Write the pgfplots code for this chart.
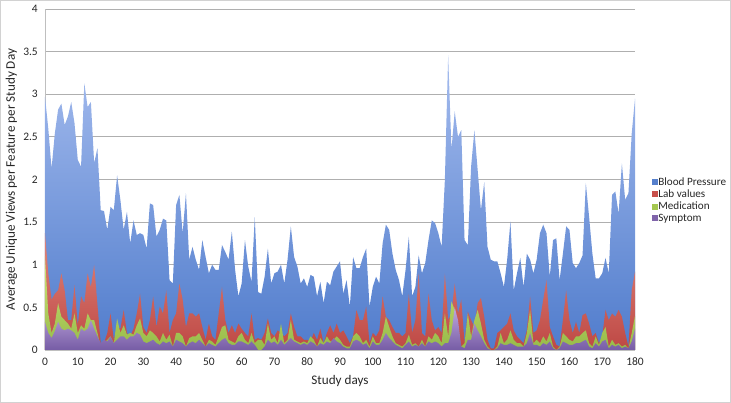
\documentclass[border=0pt]{standalone}
\usepackage{fontspec}
\setmainfont{Carlito}
\usepackage{pgfplots}
\usepackage{pgfplotstable}
\pgfplotsset{compat=1.18}
\definecolor{bpTop}{RGB}{165,188,238}
\definecolor{bpBot}{RGB}{80,124,204}
\definecolor{labTop}{RGB}{224,134,124}
\definecolor{labBot}{RGB}{190,72,68}
\definecolor{medTop}{RGB}{208,230,122}
\definecolor{medBot}{RGB}{150,186,72}
\definecolor{symTop}{RGB}{192,168,222}
\definecolor{symBot}{RGB}{118,92,165}
\definecolor{bpLeg}{RGB}{86,128,204}
\definecolor{labLeg}{RGB}{200,80,75}
\definecolor{medLeg}{RGB}{165,200,80}
\definecolor{symLeg}{RGB}{128,100,170}
\definecolor{gridc}{RGB}{175,175,175}
\pgfplotstableread{
d bp lab med sym
0 2.97 1.37 1.10 0.33
1 2.60 0.90 0.43 0.20
2 2.13 0.59 0.20 0.14
3 2.54 0.66 0.31 0.22
4 2.82 0.70 0.55 0.33
5 2.89 0.90 0.39 0.25
6 2.64 0.70 0.35 0.23
7 2.74 0.35 0.31 0.25
8 2.91 0.35 0.25 0.23
9 2.66 0.76 0.43 0.20
10 2.23 0.29 0.20 0.12
11 2.15 0.63 0.29 0.25
12 3.13 0.55 0.25 0.22
13 2.85 0.90 0.43 0.25
14 2.91 0.74 0.35 0.35
15 2.19 1.00 0.35 0.25
16 2.37 0.53 0.20 0.16
17 1.64 0.08 0.04 0.08
18 1.63 0.08 0.08 0.12
19 1.41 0.20 0.12 0.10
20 1.68 0.43 0.16 0.16
21 1.64 0.12 0.08 0.08
22 2.05 0.27 0.37 0.12
23 1.76 0.25 0.20 0.16
24 1.41 0.47 0.29 0.16
25 1.62 0.20 0.18 0.12
26 1.25 0.16 0.20 0.16
27 1.52 0.25 0.18 0.16
28 1.35 0.43 0.29 0.20
29 1.37 0.66 0.37 0.18
30 1.35 0.27 0.20 0.10
31 1.19 0.20 0.16 0.08
32 1.72 0.35 0.23 0.10
33 1.70 0.63 0.20 0.12
34 1.33 0.27 0.16 0.08
35 1.41 0.51 0.10 0.06
36 1.54 0.43 0.20 0.10
37 1.52 0.70 0.12 0.08
38 0.82 0.20 0.18 0.10
39 0.78 0.35 0.04 0.04
40 1.70 0.43 0.20 0.12
41 1.82 0.78 0.20 0.10
42 1.37 0.59 0.16 0.08
43 1.84 0.27 0.04 0.04
44 1.06 0.43 0.14 0.08
45 1.21 0.43 0.16 0.10
46 1.06 0.39 0.16 0.08
47 0.94 0.43 0.20 0.12
48 1.29 0.27 0.12 0.08
49 1.09 0.12 0.04 0.04
50 0.90 0.31 0.12 0.08
51 1.00 0.16 0.10 0.06
52 0.94 0.12 0.06 0.04
53 0.94 0.43 0.16 0.08
54 1.23 0.74 0.27 0.12
55 1.15 0.35 0.29 0.14
56 1.06 0.20 0.12 0.08
57 1.39 0.29 0.10 0.06
58 0.94 0.20 0.08 0.06
59 0.63 0.31 0.16 0.10
60 0.78 0.25 0.20 0.10
61 1.29 0.20 0.12 0.08
62 0.98 0.16 0.08 0.06
63 0.80 0.43 0.20 0.10
64 1.56 0.12 0.08 0.06
65 0.68 0.14 0.12 0.00
66 0.66 0.12 0.12 0.00
67 0.86 0.20 0.06 0.04
68 1.19 0.37 0.31 0.12
69 0.78 0.20 0.12 0.08
70 0.90 0.16 0.16 0.10
71 0.92 0.23 0.08 0.06
72 1.00 0.20 0.31 0.12
73 0.78 0.16 0.08 0.06
74 1.06 0.20 0.12 0.10
75 1.45 0.43 0.35 0.14
76 1.09 0.27 0.12 0.10
77 0.98 0.16 0.10 0.08
78 0.78 0.16 0.08 0.06
79 0.84 0.12 0.10 0.08
80 0.74 0.12 0.08 0.06
81 0.88 0.10 0.16 0.10
82 0.86 0.20 0.12 0.08
83 0.63 0.12 0.04 0.04
84 0.80 0.25 0.14 0.08
85 0.55 0.08 0.08 0.06
86 0.80 0.20 0.16 0.10
87 0.76 0.29 0.10 0.08
88 0.92 0.20 0.12 0.14
89 0.98 0.31 0.16 0.10
90 1.04 0.20 0.12 0.08
91 0.66 0.23 0.06 0.04
92 0.82 0.16 0.04 0.02
93 0.51 0.08 0.04 0.02
94 1.09 0.16 0.16 0.10
95 0.96 0.47 0.20 0.12
96 0.96 0.35 0.16 0.10
97 1.09 0.35 0.08 0.06
98 1.19 0.51 0.12 0.08
99 0.51 0.08 0.04 0.02
100 0.74 0.20 0.16 0.10
101 0.86 0.16 0.08 0.06
102 0.78 0.23 0.08 0.06
103 1.25 0.63 0.20 0.12
104 1.47 0.39 0.39 0.20
105 1.41 0.35 0.27 0.14
106 1.13 0.27 0.16 0.10
107 0.94 0.20 0.08 0.06
108 0.82 0.20 0.06 0.04
109 0.63 0.16 0.04 0.02
110 0.94 0.20 0.08 0.06
111 1.33 0.66 0.18 0.10
112 0.63 0.20 0.06 0.04
113 0.74 0.35 0.08 0.06
114 1.11 0.90 0.04 0.04
115 0.90 0.20 0.12 0.08
116 1.02 0.16 0.04 0.04
117 1.29 0.66 0.16 0.10
118 1.52 0.35 0.12 0.08
119 1.49 0.23 0.20 0.10
120 1.37 0.27 0.16 0.08
121 1.21 0.20 0.08 0.04
122 2.00 0.90 0.43 0.08
123 3.46 0.35 0.16 0.08
124 2.35 0.43 0.57 0.20
125 2.80 0.78 0.47 0.50
126 2.50 0.43 0.23 0.35
127 2.58 0.59 0.04 0.04
128 1.29 0.08 0.08 0.02
129 1.23 0.45 0.43 0.12
130 2.15 0.35 0.16 0.12
131 2.58 0.27 0.35 0.31
132 2.11 0.55 0.47 0.23
133 1.64 0.61 0.31 0.16
134 1.97 0.39 0.12 0.08
135 1.21 0.12 0.04 0.02
136 1.06 0.02 0.00 0.00
137 1.04 0.02 0.00 0.00
138 1.04 0.20 0.04 0.02
139 0.90 0.23 0.20 0.08
140 0.74 0.27 0.08 0.06
141 1.06 0.31 0.12 0.06
142 1.51 0.43 0.23 0.08
143 0.70 0.23 0.12 0.06
144 0.90 0.16 0.08 0.04
145 1.08 0.12 0.08 0.04
146 0.74 0.08 0.04 0.04
147 1.13 0.23 0.20 0.08
148 1.06 0.63 0.47 0.20
149 0.90 0.20 0.08 0.06
150 1.06 0.23 0.12 0.06
151 1.37 0.35 0.08 0.04
152 1.47 0.59 0.16 0.08
153 1.37 0.82 0.10 0.06
154 0.86 0.27 0.20 0.10
155 1.29 0.16 0.04 0.02
156 1.31 0.06 0.00 0.00
157 0.82 0.04 0.04 0.02
158 1.13 0.35 0.20 0.10
159 1.45 0.70 0.16 0.08
160 1.41 0.35 0.12 0.06
161 1.02 0.20 0.10 0.06
162 0.96 0.33 0.16 0.08
163 1.02 0.20 0.16 0.08
164 1.11 0.41 0.20 0.10
165 1.96 0.43 0.23 0.12
166 1.56 0.31 0.08 0.04
167 1.13 0.16 0.04 0.02
168 0.84 0.20 0.16 0.08
169 0.84 0.08 0.06 0.04
170 0.90 0.16 0.20 0.10
171 1.08 0.47 0.27 0.12
172 0.90 0.35 0.04 0.02
173 1.82 0.43 0.12 0.06
174 1.86 0.39 0.06 0.04
175 1.60 0.47 0.08 0.06
176 2.19 0.39 0.04 0.02
177 1.76 0.20 0.06 0.04
178 1.84 0.04 0.02 0.02
179 2.54 0.70 0.20 0.10
180 2.95 0.92 0.40 0.25
}\datatable
\begin{document}
\begin{tikzpicture}
\path[use as bounding box] (-45bp,-53bp) rectangle (686bp,350bp);
\draw[gray!35, line width=0.8bp] (-44.6bp,-52.6bp) rectangle (685.6bp,349.6bp);
\begin{axis}[
  scale only axis,
  width=590bp, height=341bp,
  xmin=0, xmax=180, ymin=0, ymax=4,
  xtick={0,10,...,180},
  ytick={0,0.5,...,4},
  yticklabels={0,0.5,1,1.5,2,2.5,3,3.5,4},
  major tick length=0pt,
  axis lines=left,
  axis line style={-, draw=gray!50, line width=0.8bp},
  ymajorgrids,
  grid style={draw=gridc, line width=0.8bp},
  /pgf/number format/assume math mode=true,
  tick label style={font=\fontsize{11.5}{13}\selectfont, text=black!85},
  yticklabel style={anchor=east, inner sep=0pt, xshift=-7bp},
  xticklabel style={anchor=center, inner sep=0pt, yshift=-12bp},
  xlabel={Study days},
  ylabel={Average Unique Views per Feature per Study Day},
  label style={font=\fontsize{13.2}{15}\selectfont, text=black!85},
  xlabel style={at={(axis description cs:0.5,-0.09)}, anchor=center},
  ylabel style={at={(axis description cs:-0.057,0.5)}, anchor=center},
  legend style={at={(1.023,0.44)}, anchor=west, draw=none, fill=none,
    font=\fontsize{11.2}{13}\selectfont, row sep=0.5bp,
    nodes={inner sep=1.2bp, text=black!85}},
  legend cell align=left,
]
\addplot[draw=none, top color=bpTop, bottom color=bpBot, forget plot] table[x=d, y=bp] {\datatable} \closedcycle;
\addplot[draw=none, top color=labTop, bottom color=labBot, forget plot] table[x=d, y=lab] {\datatable} \closedcycle;
\addplot[draw=none, top color=medTop, bottom color=medBot, forget plot] table[x=d, y=med] {\datatable} \closedcycle;
\addplot[draw=none, top color=symTop, bottom color=symBot, forget plot] table[x=d, y=sym] {\datatable} \closedcycle;
\addlegendimage{legend image code/.code={\fill[bpLeg] (0bp,-2.5bp) rectangle (5bp,2.5bp);}}
\addlegendentry{Blood Pressure}
\addlegendimage{legend image code/.code={\fill[labLeg] (0bp,-2.5bp) rectangle (5bp,2.5bp);}}
\addlegendentry{Lab values}
\addlegendimage{legend image code/.code={\fill[medLeg] (0bp,-2.5bp) rectangle (5bp,2.5bp);}}
\addlegendentry{Medication}
\addlegendimage{legend image code/.code={\fill[symLeg] (0bp,-2.5bp) rectangle (5bp,2.5bp);}}
\addlegendentry{Symptom}
\end{axis}
\end{tikzpicture}
\end{document}
